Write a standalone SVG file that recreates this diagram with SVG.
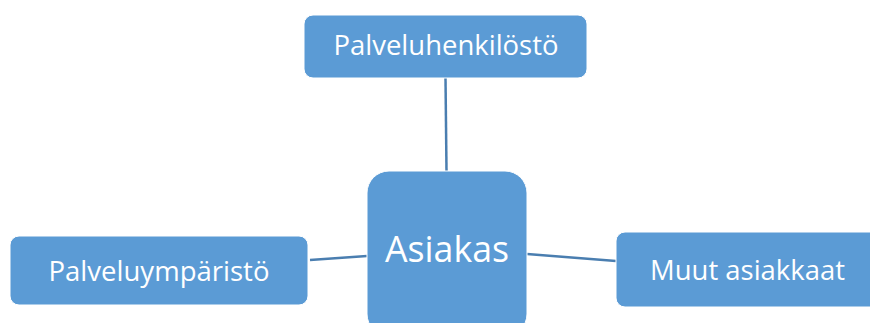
<svg xmlns="http://www.w3.org/2000/svg" width="870" height="323" viewBox="0 0 870 323">
<style>
.box{fill:#5B9BD5;stroke:#ffffff;stroke-width:1}
.t{fill:#ffffff;font-family:"Open Sans","Liberation Sans",sans-serif;text-anchor:middle}
.c{stroke:#4A7EB0;stroke-width:2.5;fill:none}
</style>
<rect width="870" height="323" fill="#ffffff"/>
<g id="connectors">
<line class="c" x1="445.5" y1="78" x2="446.5" y2="171"/>
<line class="c" x1="310" y1="260" x2="367" y2="256"/>
<line class="c" x1="527" y1="254" x2="616" y2="261"/>
</g>
<g id="palveluhenkilosto">
<rect class="box" x="304" y="15" width="283" height="63" rx="9"/>
<text class="t" x="446" y="55" font-size="27" textLength="225" lengthAdjust="spacingAndGlyphs">Palveluhenkilöstö</text>
</g>
<g id="asiakas">
<rect class="box" x="367" y="171" width="160" height="165" rx="22"/>
<text class="t" x="447" y="262" font-size="36" textLength="124" lengthAdjust="spacingAndGlyphs">Asiakas</text>
</g>
<g id="palveluymparisto">
<rect class="box" x="10" y="236" width="298" height="69" rx="9"/>
<text class="t" x="159" y="281" font-size="27" textLength="221" lengthAdjust="spacingAndGlyphs">Palveluympäristö</text>
</g>
<g id="muut">
<rect class="box" x="616" y="232" width="264" height="75" rx="9"/>
<text class="t" x="747.5" y="280" font-size="27" textLength="195" lengthAdjust="spacingAndGlyphs">Muut asiakkaat</text>
</g>
</svg>
